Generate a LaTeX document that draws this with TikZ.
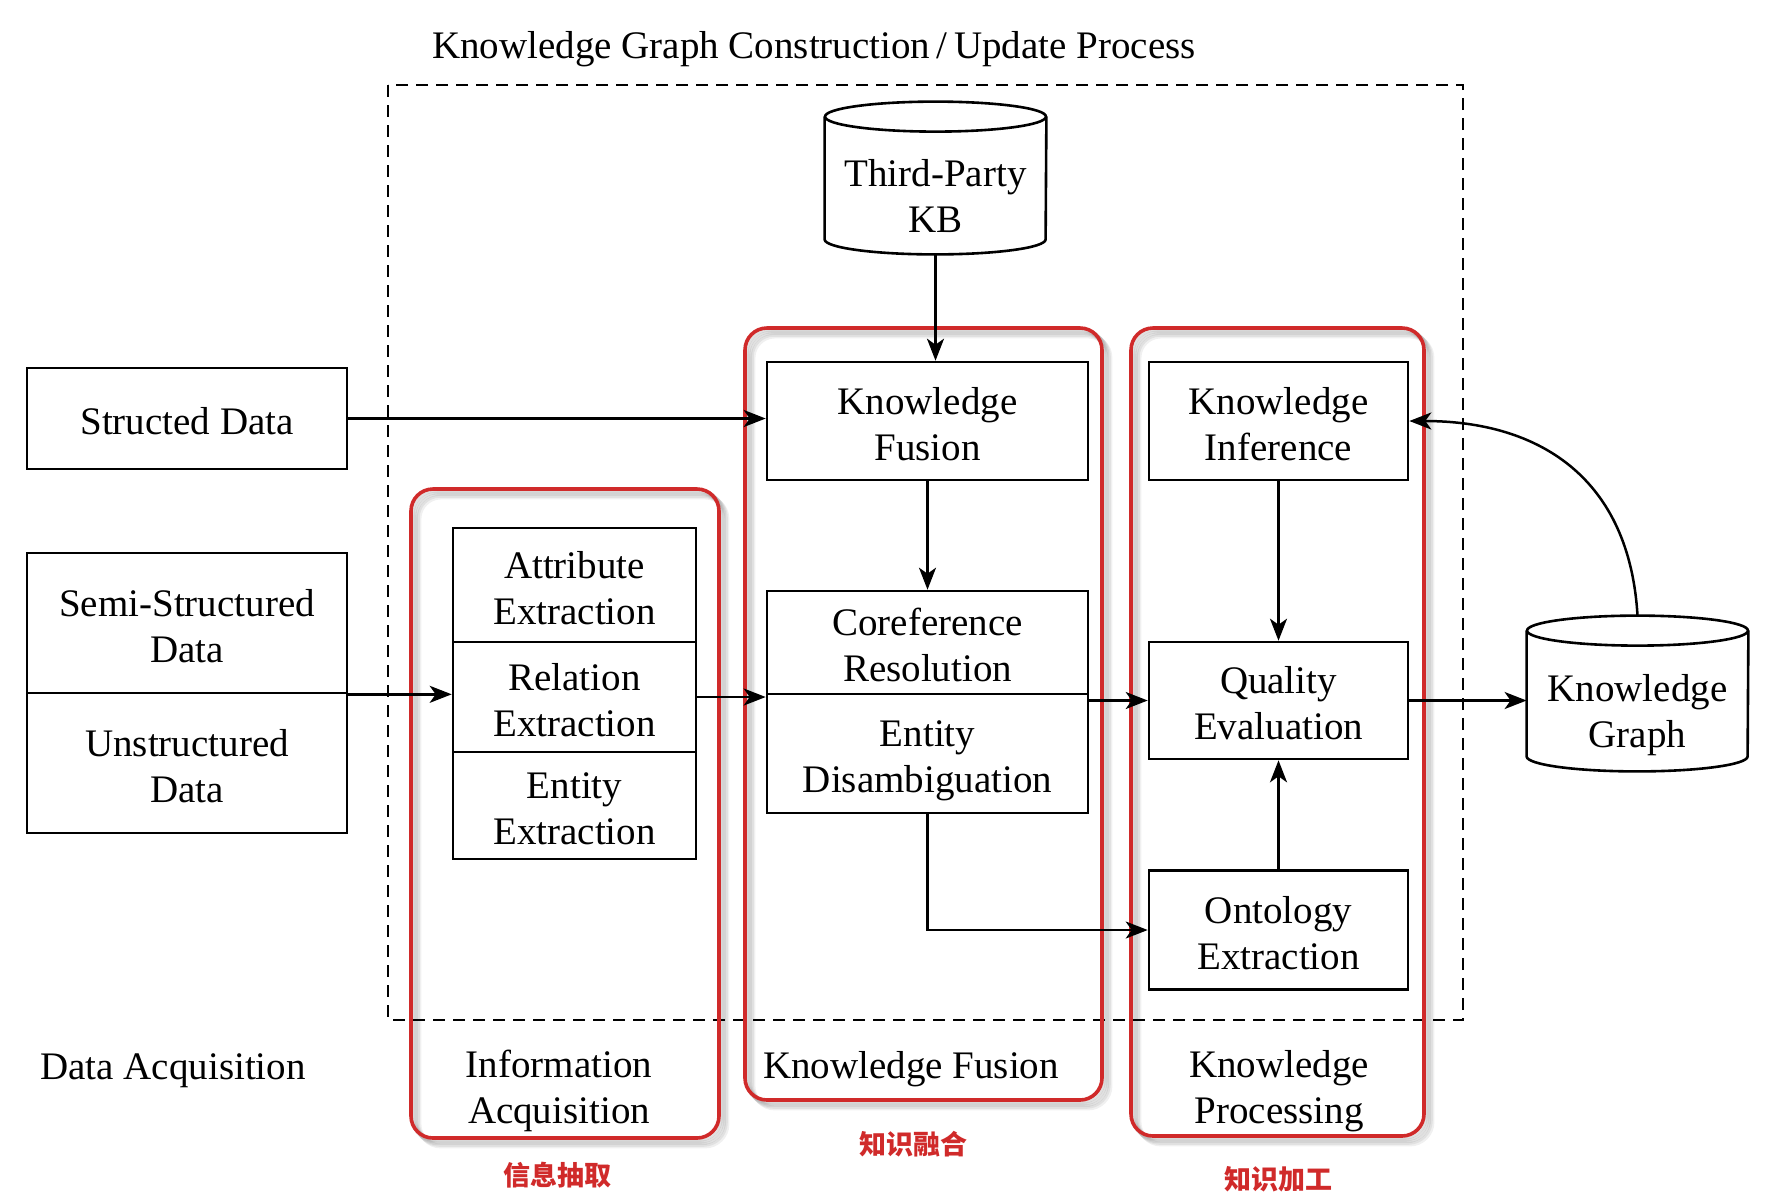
\documentclass[tikz,border=0pt]{standalone}
\usepackage{fontspec}
\setmainfont{Liberation Serif}
\newfontfamily\cjk{Noto Sans CJK SC}
\usetikzlibrary{arrows.meta,calc}
\definecolor{hlred}{RGB}{208,42,42}

% struts that fix the height of the first line and the depth of the last line
\newcommand\tstrut{\rule{0pt}{20.7pt}}
\newcommand\bstrut{\rule[-4.5pt]{0pt}{4.5pt}}

% database cylinder drawn around a named body node
\newcommand\drawdb[1]{%
  \draw[line width=1.3pt] ([yshift=7.5pt]#1.north) ellipse [x radius=55.25pt, y radius=7.5pt];
  \draw[line width=1.3pt] ([yshift=7.5pt]#1.north west) -- ([yshift=7.5pt]#1.south west)
    arc[start angle=180, end angle=360, x radius=55.25pt, y radius=7.5pt]
    -- ([yshift=7.5pt]#1.north east);
}

% rounded stage frame with a soft shadow towards the lower right
\newcommand\stageframe[4]{%
  \foreach \s in {1,...,5}{%
    \draw[stageshadow, shift={(1.6*\s,1.6*\s)}] (#1,#2) rectangle (#3,#4);}
  \draw[stage] (#1,#2) rectangle (#3,#4);
}

\begin{document}
\begin{tikzpicture}[x=0.5pt,y=-0.5pt,
  every node/.style={font=\fontsize{19.5}{23}\selectfont},
  txt/.style={execute at end node={\bstrut}},
  box/.style={txt, draw, fill=white, line width=1.3pt, align=center, inner sep=0pt},
  lbl/.style={txt, align=center, inner sep=0pt},
  arr/.style={line width=1.25pt, -{Stealth[length=11pt,width=8.5pt,inset=3pt]}},
  stage/.style={draw=hlred, line width=1.8pt, rounded corners=11pt},
  stageshadow/.style={draw=black, opacity=0.06, line width=2.4pt, rounded corners=11pt},
  cjklabel/.style={font=\cjk\bfseries\fontsize{13.5}{16}\selectfont, text=hlred, inner sep=0pt},
  dbody/.style={txt, align=center, inner sep=0pt, minimum width=110.5pt, minimum height=61pt}
]
\fill[white] (0,0) rectangle (1772,1196);
\useasboundingbox (0,0) rectangle (1772,1196);

% process frame
\draw[line width=1.2pt, dash pattern=on 6pt off 4pt] (388,85) rectangle (1463,1020);
\node[lbl] (title) at (814,42) {\tstrut Knowledge Graph Construction\,/\,Update Process};

% stage frames
\stageframe{411}{489}{719}{1138}
\stageframe{745}{328}{1102}{1100}
\stageframe{1131}{328}{1424}{1136}

% data sources
\node[box, minimum width=160pt, minimum height=50.5pt] (sd) at (187,418.5) {\tstrut Structed Data};
\node[box, minimum width=160pt, minimum height=70pt] (semi) at (187,623) {\tstrut Semi-Structured\\Data};
\node[box, minimum width=160pt, minimum height=70pt] (unst) at (187,763) {\tstrut Unstructured\\Data};

% information acquisition
\node[box, minimum width=121.5pt, minimum height=57pt] (attr) at (574.5,585) {\tstrut Attribute\\Extraction};
\node[box, minimum width=121.5pt, minimum height=55pt] (rel) at (574.5,697) {\tstrut Relation\\Extraction};
\node[box, minimum width=121.5pt, minimum height=53.5pt] (ent) at (574.5,805.5) {\tstrut Entity\\Extraction};

% knowledge fusion
\node[dbody] (kb) at (935.5,193) {\tstrut Third-Party\\KB};
\drawdb{kb}
\node[box, minimum width=160.5pt, minimum height=59pt] (kf) at (927.5,421) {\tstrut Knowledge\\Fusion};
\node[box, minimum width=160.5pt, minimum height=51.5pt] (coref) at (927.5,642.5) {\tstrut Coreference\\Resolution};
\node[box, minimum width=160.5pt, minimum height=59.5pt] (disamb) at (927.5,753.5) {\tstrut Entity\\Disambiguation};

% knowledge processing
\node[box, minimum width=129.5pt, minimum height=59pt] (ki) at (1278.5,421) {\tstrut Knowledge\\Inference};
\node[box, minimum width=129.5pt, minimum height=58.5pt] (qe) at (1278.5,700.5) {\tstrut Quality\\Evaluation};
\node[box, minimum width=129.5pt, minimum height=59.5pt] (onto) at (1278.5,930) {\tstrut Ontology\\Extraction};

% output store
\node[dbody, minimum height=62.5pt] (kg) at (1637.5,708.5) {\tstrut Knowledge\\Graph};
\drawdb{kg}
\coordinate (kgtop) at ([yshift=15pt]kg.north);

% connectors
\draw[arr] (sd.east) -- (sd.east -| kf.west);
\draw[arr] (semi.south east) -- (semi.south east -| rel.west);
\draw[arr] (rel.east) -- (rel.east -| coref.west);
\draw[arr] (kb.south) -- (kb.south |- kf.north);
\draw[arr] (kf.south) -- (coref.north);
\draw[arr] (disamb.north east |- qe.west) -- (qe.west);
\draw[arr] (disamb.south) |- (onto.west);
\draw[arr] (ki.south) -- (qe.north);
\draw[arr] (onto.north) -- (qe.south);
\draw[arr] (qe.east) -- (qe.east -| kg.west);
\draw[arr] (kgtop) .. controls ($(kgtop)+(-8,-136)$) and ($(ki.east)+(132,0)$) .. (ki.east);

% stage captions
\node[lbl] (lda) at (173,1063) {\tstrut Data Acquisition};
\node[lbl] (lia) at (559,1084.5) {\tstrut Information\\Acquisition};
\node[lbl] (lkf) at (911,1062) {\tstrut Knowledge Fusion};
\node[lbl] (lkp) at (1279,1084.5) {\tstrut Knowledge\\Processing};

\node[cjklabel] (zh1) at (557,1175) {信息抽取};
\node[cjklabel] (zh2) at (913,1144) {知识融合};
\node[cjklabel] (zh3) at (1278,1179) {知识加工};
\end{tikzpicture}
\end{document}
